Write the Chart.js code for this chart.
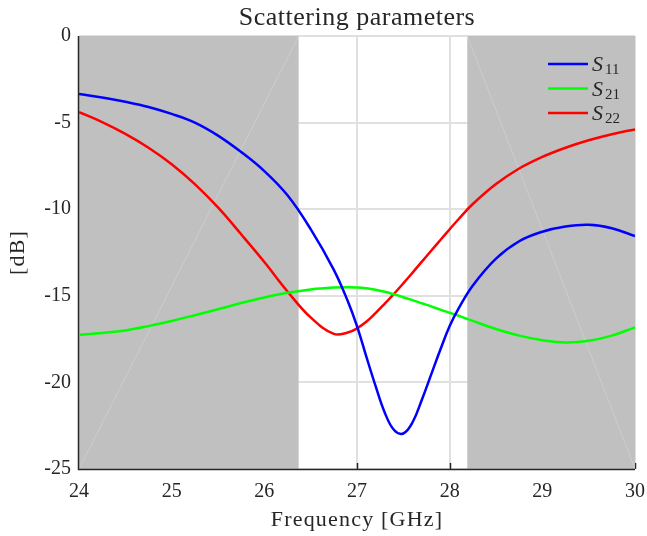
<!DOCTYPE html>
<html>
<head>
<meta charset="utf-8">
<script src="https://cdn.jsdelivr.net/npm/chart.js@4"></script>
<style>
  html, body { margin: 0; padding: 0; background: #fff; }
  #wrap { width: 647px; height: 536px; }
</style>
</head>
<body>
<div id="wrap"><canvas id="sparams" width="647" height="536"></canvas></div>
<script>
// frequency points [GHz]
const freq = [24, 24.25, 24.5, 24.75, 25, 25.25, 25.5, 25.75, 26, 26.25, 26.5, 26.75, 26.9,
  27, 27.1, 27.2, 27.3, 27.4, 27.5, 27.6, 27.7, 27.8, 27.9, 28, 28.1,
  28.25, 28.5, 28.75, 29, 29.25, 29.5, 29.75, 30];

// S-parameters [dB]
const s11 = [-3.35, -3.55, -3.8, -4.1, -4.5, -5.0, -5.75, -6.7, -7.8, -9.2, -11.15, -13.5, -15.3,
  -16.75, -18.5, -20.2, -21.75, -22.75, -22.95, -22.3, -21.0, -19.55, -18.1, -16.75, -15.7,
  -14.4, -12.85, -11.85, -11.3, -11.0, -10.9, -11.1, -11.55];
const s21 = [-17.26, -17.15, -17.0, -16.75, -16.45, -16.12, -15.78, -15.42, -15.1, -14.83, -14.63, -14.52, -14.5,
  -14.52, -14.57, -14.65, -14.77, -14.92, -15.08, -15.25, -15.43, -15.61, -15.8, -15.98, -16.16,
  -16.45, -16.92, -17.3, -17.56, -17.69, -17.6, -17.3, -16.82];
const s22 = [-4.39, -4.97, -5.65, -6.45, -7.4, -8.55, -9.9, -11.45, -13.05, -14.75, -16.25, -17.2, -17.12,
  -16.88, -16.5, -16.0, -15.45, -14.88, -14.28, -13.66, -13.03, -12.4, -11.78, -11.16, -10.55,
  -9.7, -8.55, -7.65, -6.98, -6.45, -6.02, -5.67, -5.39];

// shaded (out of band) ranges [GHz]
const bandStart = [24, 28.19];
const bandEnd = [26.37, 30];

const seriesNames = ["11", "21", "22"];
const seriesColors = ["#0000ff", "#00ff00", "#ff0000"];

const serif = "'Liberation Serif', 'Times New Roman', serif";
const textColor = "#262626";

function toXY(ys) {
  return freq.map((f, i) => ({x: f, y: ys[i]}));
}

// grey patches, axis lines drawn over the grid but under the curves
const bandPlugin = {
  id: "bands",
  beforeDatasetsDraw(chart) {
    const {ctx, chartArea: a, scales: {x}} = chart;
    ctx.save();
    ctx.strokeStyle = textColor;
    ctx.lineWidth = 1.5;
    x.ticks.forEach(t => {
      const px = Math.round(x.getPixelForValue(t.value)) + 0.5;
      ctx.beginPath();
      ctx.moveTo(px, a.bottom);
      ctx.lineTo(px, a.bottom - 6);
      ctx.stroke();
    });
    for (let i = 0; i < bandStart.length; i++) {
      const x0 = x.getPixelForValue(bandStart[i]);
      const x1 = x.getPixelForValue(bandEnd[i]);
      ctx.fillStyle = "#c0c0c0";
      ctx.fillRect(x0, a.top, x1 - x0, a.bottom - a.top + 1);
      // faint seam of the patch triangles
      ctx.strokeStyle = "rgba(255,255,255,0.2)";
      ctx.lineWidth = 1;
      ctx.beginPath();
      if (i === 0) {
        ctx.moveTo(x0, a.bottom);
        ctx.lineTo(x1, a.top);
      } else {
        ctx.moveTo(x0, a.top);
        ctx.lineTo(x1, a.bottom);
      }
      ctx.stroke();
    }
    ctx.strokeStyle = textColor;
    ctx.lineWidth = 1.5;
    ctx.beginPath();
    ctx.moveTo(a.left - 0.5, a.top);
    ctx.lineTo(a.left - 0.5, a.bottom + 0.5);
    ctx.lineTo(a.right, a.bottom + 0.5);
    ctx.stroke();
    ctx.restore();
  }
};

// legend with subscripts, title and axis titles
const textPlugin = {
  id: "texts",
  afterDatasetsDraw(chart) {
    const {ctx, chartArea: a} = chart;
    ctx.save();
    for (let i = 0; i < seriesNames.length; i++) {
      const ly = a.top + 28 + i * 24.5;
      ctx.strokeStyle = seriesColors[i];
      ctx.lineWidth = 2.5;
      ctx.beginPath();
      ctx.moveTo(a.right - 87, ly);
      ctx.lineTo(a.right - 47, ly);
      ctx.stroke();
      ctx.fillStyle = textColor;
      ctx.textBaseline = "alphabetic";
      ctx.textAlign = "left";
      ctx.font = "italic 22px " + serif;
      ctx.fillText("S", a.right - 43, ly + 7);
      ctx.font = "15px " + serif;
      ctx.fillText(seriesNames[i], a.right - 30, ly + 10);
    }
    const cx = (a.left + a.right) / 2;
    ctx.fillStyle = textColor;
    ctx.textAlign = "center";
    ctx.textBaseline = "alphabetic";
    ctx.letterSpacing = "0.5px";
    ctx.font = "26px " + serif;
    ctx.fillText("Scattering parameters", cx, 25);
    ctx.letterSpacing = "1.2px";
    ctx.font = "22px " + serif;
    ctx.fillText("Frequency [GHz]", cx, 526);
    ctx.translate(24, (a.top + a.bottom) / 2);
    ctx.rotate(-Math.PI / 2);
    ctx.fillText("[dB]", 0, 0);
    ctx.restore();
  }
};

new Chart("sparams", {
  type: "line",
  data: {
    datasets: [
      {label: "S11", data: toXY(s11), borderColor: seriesColors[0]},
      {label: "S21", data: toXY(s21), borderColor: seriesColors[1]},
      {label: "S22", data: toXY(s22), borderColor: seriesColors[2]}
    ]
  },
  options: {
    responsive: false,
    animation: false,
    events: [],
    parsing: false,
    layout: {padding: {left: 0, right: 12, top: 36, bottom: 0}, autoPadding: false},
    elements: {
      point: {radius: 0},
      line: {borderWidth: 2.5, tension: 0.4, fill: false}
    },
    plugins: {
      legend: {display: false},
      tooltip: {enabled: false},
      title: {display: false}
    },
    scales: {
      x: {
        type: "linear",
        min: 24,
        max: 30,
        afterFit: s => { s.height = 67; s.paddingLeft = 0; s.paddingRight = 0; },
        border: {display: false},
        grid: {color: "#e0e0e0", lineWidth: 2, drawTicks: false},
        ticks: {stepSize: 1, color: textColor, padding: 11, maxRotation: 0,
          font: {family: serif, size: 20}}
      },
      y: {
        min: -25,
        max: 0,
        afterFit: s => { s.width = 79; s.paddingTop = 0; s.paddingBottom = 0; },
        border: {display: false},
        grid: {color: "#e0e0e0", lineWidth: 2, drawTicks: false},
        ticks: {stepSize: 5, color: textColor, padding: 8,
          font: {family: serif, size: 20}}
      }
    }
  },
  plugins: [bandPlugin, textPlugin]
});
</script>
</body>
</html>
